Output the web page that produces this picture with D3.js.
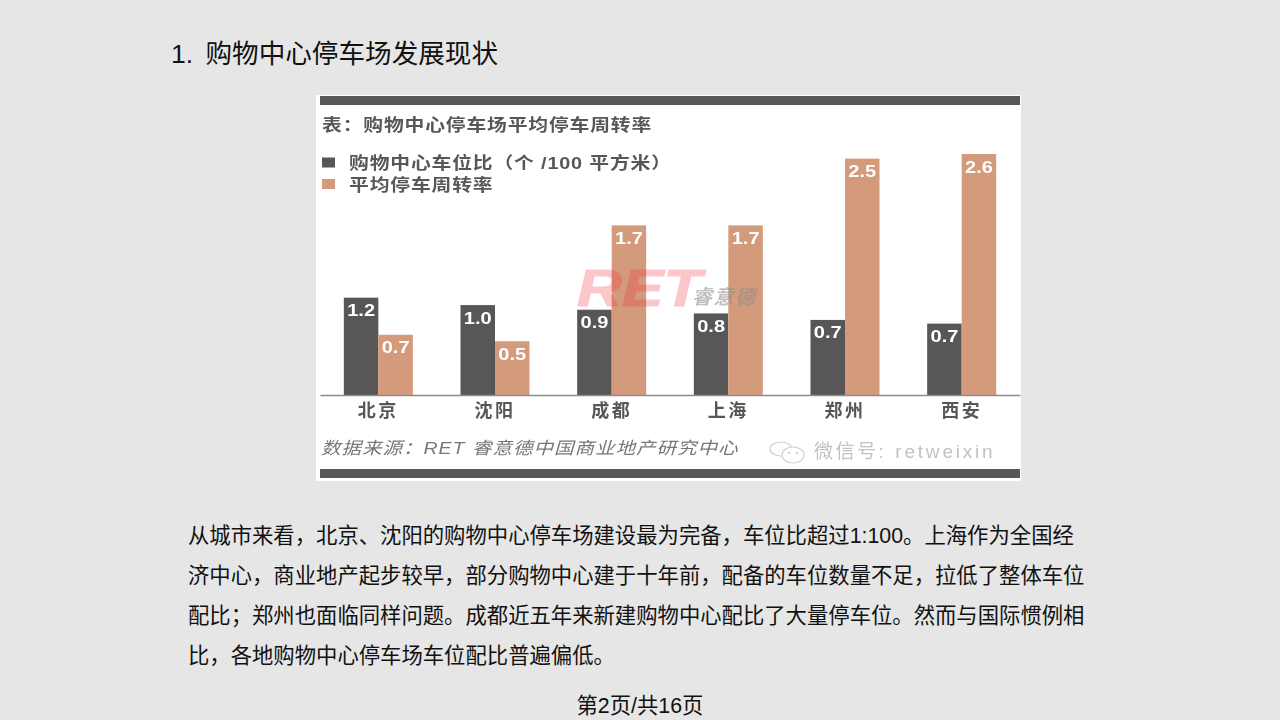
<!DOCTYPE html>
<html>
<head>
<meta charset="utf-8">
<script src="https://cdn.jsdelivr.net/npm/d3@7"></script>
<style>
html, body { margin: 0; padding: 0; background: #e6e6e6; }
svg { display: block; }
.slide { font-family: "Liberation Sans", "Noto Sans CJK SC", sans-serif; fill: #111; }
.panel { font-family: "Liberation Sans", "Noto Sans CJK SC", sans-serif; }
</style>
</head>
<body>
<div id="graphic"></div>
<script>
// city groups
var cities = ["北京", "沈阳", "成都", "上海", "郑州", "西安"];
// bar heights (they do not quite follow the printed labels)
var parkingRatio = [1.05, 0.97, 0.92, 0.88, 0.81, 0.77];
var turnover = [0.65, 0.58, 1.83, 1.83, 2.55, 2.6];
// labels printed on the bars
var parkingLabels = ["1.2", "1.0", "0.9", "0.8", "0.7", "0.7"];
var turnoverLabels = ["0.7", "0.5", "1.7", "1.7", "2.5", "2.6"];
var seriesNames = ["购物中心车位比（个 /100 平方米）", "平均停车周转率"];
var colours = ["#595757", "#d49a7c"];
var bodyLines = [
	"从城市来看，北京、沈阳的购物中心停车场建设最为完备，车位比超过1:100。上海作为全国经",
	"济中心，商业地产起步较早，部分购物中心建于十年前，配备的车位数量不足，拉低了整体车位",
	"配比；郑州也面临同样问题。成都近五年来新建购物中心配比了大量停车位。然而与国际惯例相",
	"比，各地购物中心停车场车位配比普遍偏低。"
];

var svg = d3.select("#graphic").append("svg")
	.attr("width", 1280)
	.attr("height", 720);

svg.append("rect").attr("width", 1280).attr("height", 720).attr("fill", "#e6e6e6");

// slide text
var slide = svg.append("g").attr("class", "slide");
slide.append("text").attr("x", 171).attr("y", 63).attr("font-size", 26.6).text("1.");
slide.append("text").attr("x", 205.5).attr("y", 63).attr("font-size", 26.6).text("购物中心停车场发展现状");
slide.selectAll(".body")
	.data(bodyLines)
	.enter()
	.append("text")
	.attr("class", "body")
	.attr("x", 188)
	.attr("y", function(d, i) { return 543 + i * 40; })
	.attr("font-size", 21.35)
	.text(function(d) { return d; });
slide.append("text").attr("x", 640).attr("y", 713).attr("font-size", 21.35).attr("text-anchor", "middle").text("第2页/共16页");

// the chart sits in a slightly soft pasted picture
var defs = svg.append("defs");
defs.append("filter").attr("id", "soft")
	.append("feGaussianBlur").attr("stdDeviation", 0.55);

var panel = svg.append("g").attr("class", "panel").attr("filter", "url(#soft)");
panel.append("rect").attr("x", 316).attr("y", 95).attr("width", 705).attr("height", 386).attr("fill", "#fff");
panel.append("rect").attr("x", 320).attr("y", 96).attr("width", 700).attr("height", 9).attr("fill", colours[0]);
panel.append("rect").attr("x", 320).attr("y", 469).attr("width", 700).attr("height", 9).attr("fill", colours[0]);

// the picture's type is stretched sideways, so the text is scaled on x
panel.append("text").attr("transform", "translate(322,131) scale(1.2,1)").attr("font-size", 16.5).attr("font-weight", "bold")
	.attr("letter-spacing", 0.7).attr("fill", colours[0]).text("表：购物中心停车场平均停车周转率");

var legend = panel.selectAll(".key")
	.data(seriesNames)
	.enter()
	.append("g")
	.attr("class", "key")
	.attr("transform", function(d, i) { return "translate(322," + (157.5 + i * 21.5) + ")"; });
legend.append("rect").attr("width", 13).attr("height", 10).attr("fill", function(d, i) { return colours[i]; });
legend.append("text").attr("transform", "translate(27,11.5) scale(1.2,1)").attr("font-size", 16.5).attr("font-weight", "bold")
	.attr("letter-spacing", 0.7).attr("fill", colours[0]).text(function(d) { return d; });

var x0 = d3.scaleBand().domain(cities).range([320, 1020]);
var x1 = d3.scaleBand().domain([0, 1]).range([-34.5, 34.5]);
var y = d3.scaleLinear().domain([0, 2.6]).range([395, 154]);

var series = [
	{ values: parkingRatio, labels: parkingLabels },
	{ values: turnover, labels: turnoverLabels }
];

series.forEach(function(s, k) {
	var g = panel.append("g").attr("class", "bars").attr("fill", colours[k]);
	g.selectAll("rect")
		.data(s.values)
		.enter()
		.append("rect")
		.attr("x", function(d, i) { return x0(cities[i]) + x0.bandwidth() / 2 + x1(k); })
		.attr("y", function(d) { return y(d); })
		.attr("width", x1.bandwidth())
		.attr("height", function(d) { return y(0) - y(d); });
	g.selectAll("text")
		.data(s.values)
		.enter()
		.append("text")
		.attr("transform", function(d, i) {
			var cx = x0(cities[i]) + x0.bandwidth() / 2 + x1(k) + x1.bandwidth() / 2;
			return "translate(" + cx + "," + (y(d) + 18.5) + ") scale(1.18,1)";
		})
		.attr("text-anchor", "middle")
		.attr("font-size", 17)
		.attr("font-weight", "bold")
		.attr("fill", "#fff")
		.text(function(d, i) { return s.labels[i]; });
});

// axis
var xAxis = d3.axisBottom(x0).tickSize(0).tickPadding(7);
var axis = panel.append("g").attr("transform", "translate(0,395)").call(xAxis);
axis.select(".domain").attr("stroke", "#8c8c8c").attr("stroke-width", 1.5);
axis.selectAll("text")
	.attr("font-family", "Noto Sans CJK SC")
	.attr("font-size", 18)
	.attr("font-weight", "bold")
	.attr("letter-spacing", 2.5)
	.attr("dy", "0.85em")
	.attr("fill", colours[0]);

// source line and watermarks
panel.append("text").attr("transform", "translate(321,454) scale(1.15,1)").attr("font-size", 17).attr("font-style", "italic")
	.attr("letter-spacing", 0.85).attr("fill", "#777").text("数据来源：RET 睿意德中国商业地产研究中心");
panel.append("text").attr("transform", "translate(577,306) scale(1.22,1)").attr("font-size", 51).attr("font-weight", "bold")
	.attr("font-style", "italic").attr("fill", "#f2333f").attr("stroke", "#f2333f").attr("stroke-width", 1.2)
	.attr("opacity", 0.27).text("RET");
panel.append("text").attr("x", 692).attr("y", 304).attr("font-size", 20).attr("font-weight", "bold").attr("letter-spacing", 1.5)
	.attr("font-style", "italic").attr("fill", "#8c8c8c").attr("opacity", 0.55).text("睿意德");

var wx = panel.append("g").attr("fill", "#fff").attr("stroke", "#cfcfcf").attr("stroke-width", 1.2);
wx.append("ellipse").attr("cx", 781).attr("cy", 449).attr("rx", 11).attr("ry", 7);
wx.append("ellipse").attr("cx", 793).attr("cy", 455).attr("rx", 11).attr("ry", 8);
panel.selectAll(".eye")
	.data([789, 797])
	.enter()
	.append("circle")
	.attr("class", "eye")
	.attr("cx", function(d) { return d; })
	.attr("cy", 453)
	.attr("r", 1)
	.attr("fill", "#bdbdbd");

var wxText = panel.append("text").attr("x", 814).attr("y", 458).attr("font-size", 19).attr("letter-spacing", 2.5)
	.attr("fill", "#c2c2c2");
wxText.append("tspan").text("微信号:");
wxText.append("tspan").attr("dx", 9).attr("letter-spacing", 2.8).text("retweixin");
</script>
</body>
</html>
